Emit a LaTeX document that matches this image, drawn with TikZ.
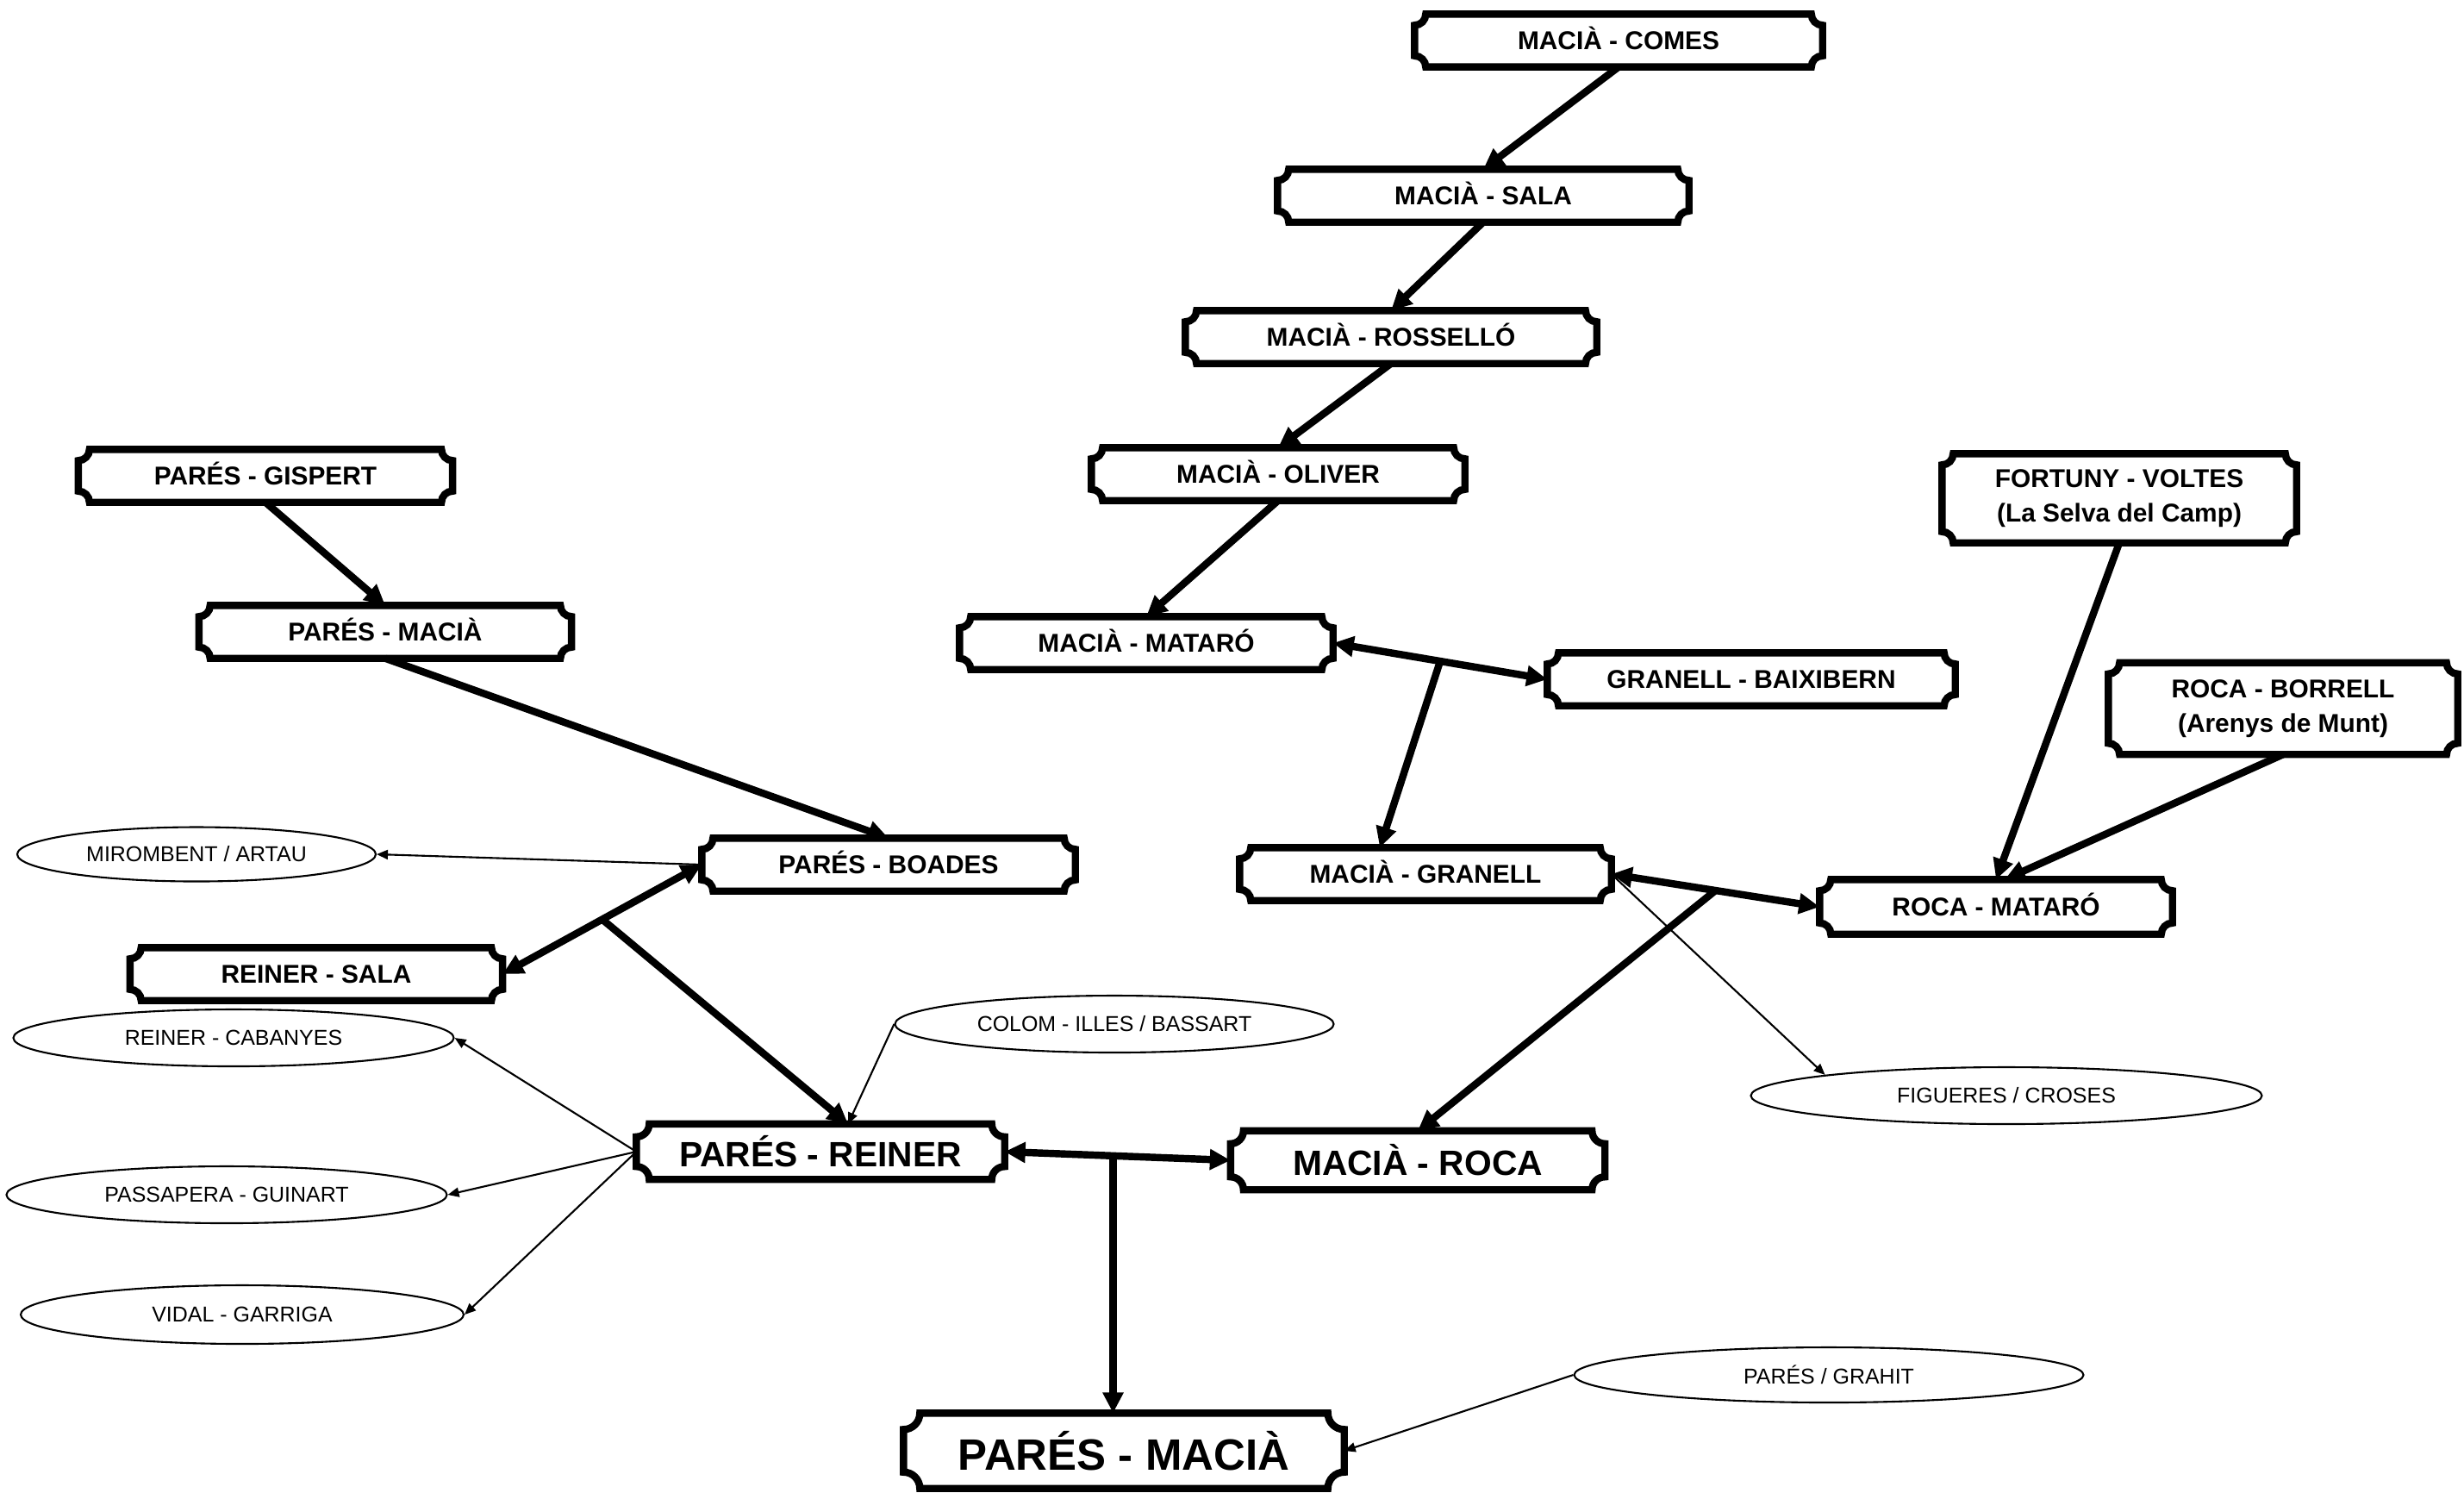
\documentclass[tikz,border=0pt]{standalone}
\usepackage{fontspec}
\setmainfont{Liberation Sans}
\usetikzlibrary{calc,shapes.geometric,arrows.meta}

\tikzset{
  box/.style={inner sep=0pt, align=center, font=\bfseries\fontsize{8.5}{11.5}\selectfont},
  onebox/.style={box, text height=0.72em, text depth=0.12em},
  bigbox/.style={box, font=\bfseries\fontsize{11.6}{14}\selectfont},
  hugebox/.style={box, font=\bfseries\fontsize{14.5}{17}\selectfont},
  note/.style={draw, ellipse, inner sep=0pt, line width=0.6pt, font=\fontsize{7.1}{8}\selectfont},
  link/.style={line width=2.4pt, -{Triangle[length=2.4mm,width=2.3mm]}},
  twolink/.style={line width=2.4pt, {Triangle[length=2.4mm,width=2.3mm]}-{Triangle[length=2.4mm,width=2.3mm]}},
  ref/.style={line width=0.6pt, -{Triangle[length=1.3mm,width=1.1mm]}},
}

% border with notched corners round a named node
\newcommand{\plaque}[2][0.13]{%
  \draw[line width=2.4pt] ([xshift=#1cm]#2.north west) -- ([xshift=-#1cm]#2.north east)
    arc[start angle=180,end angle=270,radius=#1] -- ([yshift=#1cm]#2.south east)
    arc[start angle=90,end angle=180,radius=#1] -- ([xshift=#1cm]#2.south west)
    arc[start angle=0,end angle=90,radius=#1] -- ([yshift=-#1cm]#2.north west)
    arc[start angle=270,end angle=360,radius=#1] -- cycle;}

\begin{document}
\begin{tikzpicture}
\useasboundingbox (0,0) rectangle (28.59,-17.31);

\node[onebox, minimum width=4.72cm, minimum height=0.6cm] (comes) at (18.78,-0.47) {MACIÀ - COMES};
\node[onebox, minimum width=4.76cm, minimum height=0.6cm] (sala) at (17.21,-2.27) {MACIÀ - SALA};
\node[onebox, minimum width=4.76cm, minimum height=0.6cm] (rossello) at (16.14,-3.91) {MACIÀ - ROSSELLÓ};
\node[onebox, minimum width=4.32cm, minimum height=0.6cm] (oliver) at (14.83,-5.50) {MACIÀ - OLIVER};
\node[onebox, minimum width=4.32cm, minimum height=0.6cm] (mataro) at (13.30,-7.46) {MACIÀ - MATARÓ};
\node[onebox, minimum width=4.72cm, minimum height=0.6cm] (baixibern) at (20.32,-7.88) {GRANELL - BAIXIBERN};
\node[onebox, minimum width=4.30cm, minimum height=0.6cm] (granell) at (16.54,-10.14) {MACIÀ - GRANELL};
\node[onebox, minimum width=4.08cm, minimum height=0.62cm] (rocamataro) at (23.16,-10.52) {ROCA - MATARÓ};
\node[box, minimum width=4.10cm, minimum height=1.02cm] (fortuny) at (24.59,-5.78) {FORTUNY - VOLTES\\(La Selva del Camp)};
\node[box, minimum width=4.04cm, minimum height=1.05cm] (borrell) at (26.49,-8.22) {ROCA - BORRELL\\(Arenys de Munt)};
\node[bigbox, minimum width=4.33cm, minimum height=0.67cm] (maciaroca) at (16.45,-13.46) {MACIÀ - ROCA};
\node[bigbox, minimum width=4.26cm, minimum height=0.63cm] (paresreiner) at (9.52,-13.36) {PARÉS - REINER};
\node[hugebox, minimum width=5.10cm, minimum height=0.86cm] (bigmacia) at (13.04,-16.83) {PARÉS - MACIÀ};
\node[onebox, minimum width=4.33cm, minimum height=0.6cm] (gispert) at (3.08,-5.52) {PARÉS - GISPERT};
\node[onebox, minimum width=4.31cm, minimum height=0.6cm] (paresmacia) at (4.47,-7.33) {PARÉS - MACIÀ};
\node[onebox, minimum width=4.32cm, minimum height=0.6cm] (boades) at (10.31,-10.03) {PARÉS - BOADES};
\node[onebox, minimum width=4.31cm, minimum height=0.6cm] (reinersala) at (3.67,-11.30) {REINER - SALA};

\foreach \n in {comes,sala,rossello,oliver,mataro,baixibern,granell,rocamataro,
  fortuny,borrell,gispert,paresmacia,boades,reinersala}
  \plaque{\n};
\plaque[0.15]{maciaroca}
\plaque[0.15]{paresreiner}
\plaque[0.19]{bigmacia}

\node[note, minimum width=4.16cm, minimum height=0.63cm] (mirombent) at (2.28,-9.91) {MIROMBENT / ARTAU};
\node[note, minimum width=5.11cm, minimum height=0.66cm] (cabanyes) at (2.71,-12.04) {REINER - CABANYES};
\node[note, minimum width=5.11cm, minimum height=0.66cm] (passapera) at (2.63,-13.86) {PASSAPERA - GUINART};
\node[note, minimum width=5.14cm, minimum height=0.68cm] (vidal) at (2.81,-15.25) {VIDAL - GARRIGA};
\node[note, minimum width=5.09cm, minimum height=0.66cm] (colom) at (12.93,-11.88) {COLOM - ILLES / BASSART};
\node[note, minimum width=5.93cm, minimum height=0.66cm] (figueres) at (23.28,-12.71) {FIGUERES / CROSES};
\node[note, minimum width=5.91cm, minimum height=0.64cm] (grahit) at (21.22,-15.95) {PARÉS / GRAHIT};

\draw[link] (comes.south) -- (sala.north);
\draw[link] (sala.south) -- (rossello.north);
\draw[link] (rossello.south) -- (oliver.north);
\draw[link] (oliver.south) -- (mataro.north);
\draw[twolink] (mataro.east) -- (baixibern.west);
\coordinate (mb) at ($(mataro.east)!0.5!(baixibern.west)$);
\draw[link] (mb) -- ([xshift=-5.3mm]granell.north);
\draw[twolink] (granell.east) -- (rocamataro.west);
\coordinate (gr) at ($(granell.east)!0.5!(rocamataro.west)$);
\draw[link] (gr) -- (maciaroca.north);
\draw[link] (fortuny.south) -- (rocamataro.north);
\draw[link] (borrell.south) -- ([xshift=1mm]rocamataro.north);

\draw[link] (gispert.south) -- (paresmacia.north);
\draw[link] (paresmacia.south) -- (boades.north);
\draw[twolink] (boades.west) -- (reinersala.east);
\coordinate (br) at ($(boades.west)!0.5!(reinersala.east)$);
\draw[link] (br) -- ([xshift=3.2mm]paresreiner.north);
\draw[twolink] (paresreiner.east) -- (maciaroca.west);
\coordinate (rr) at ($(paresreiner.east)!0.48!(maciaroca.west)$);
\draw[link] (rr) -- (rr |- bigmacia.north);

% thin lines to the ovals
\draw[ref] (boades.west) -- (mirombent.east);
\draw[ref] (colom.west) -- ([xshift=3.2mm]paresreiner.north);
\foreach \e in {cabanyes,passapera,vidal}
  \draw[ref] (paresreiner.west) -- (\e.east);
\draw[ref] (granell.east) -- (figueres.north west);
\draw[ref] (grahit.west) -- (bigmacia.east);
\end{tikzpicture}
\end{document}
